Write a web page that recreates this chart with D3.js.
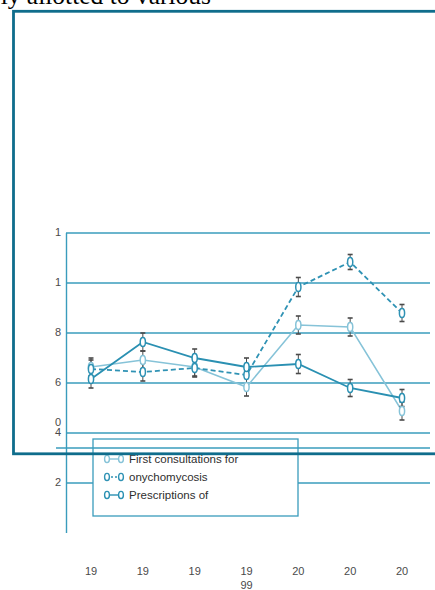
<!DOCTYPE html>
<html>
<head>
<meta charset="utf-8">
<script src="https://cdn.jsdelivr.net/npm/d3@7/dist/d3.min.js"></script>
<style>
  html, body { margin: 0; padding: 0; background: #fff; overflow: hidden; }
  svg { display: block; }
</style>
</head>
<body>
<script>
// ---- data ----
const years = [1996, 1997, 1998, 1999, 2000, 2001, 2002];
const xLabels = ["19", "19", "19", "19", "20", "20", "20"];
const xLabels2 = ["", "", "", "99", "", "", ""];
const firstConsult = [6.64, 6.92, 6.64, 5.84, 8.32, 8.24, 4.88];
const firstConsultErr = [0.36, 0.36, 0.36, 0.36, 0.36, 0.36, 0.36];
const onychomycosis = [6.56, 6.44, 6.6, 6.32, 9.84, 10.84, 8.8];
const onychomycosisErr = [0.36, 0.36, 0.36, 0.36, 0.38, 0.3, 0.34];
const prescriptions = [6.16, 7.64, 7.0, 6.64, 6.76, 5.8, 5.4];
const prescriptionsErr = [0.36, 0.36, 0.36, 0.36, 0.38, 0.34, 0.34];
const yTickValues = [2, 4, 6, 8, 10, 12];
const yTickLabels = ["2", "4", "6", "8", "1", "1"];
const legendLabels = ["First consultations for", "onychomycosis", "Prescriptions of"];
const extraLineValue = [3.4];
const titleText = "ly allotted to various";

// ---- layout ----
const W = 435, H = 590;
const svg = d3.select("body").append("svg").attr("width", W).attr("height", H);

const x = d3.scalePoint().domain(years).range([91, 402]);
const y = d3.scaleLinear().domain([0, 12]).range([533, 233]);

const gridColor = "#3a9cbc";
const font = "'Liberation Sans', Arial, sans-serif";

// gridlines
svg.append("g").selectAll("line").data(yTickValues).join("line")
  .attr("x1", 66).attr("x2", 430)
  .attr("y1", d => y(d)).attr("y2", d => y(d))
  .attr("stroke", gridColor).attr("stroke-width", 1.4);

// y axis line
svg.append("line").attr("x1", 66.5).attr("x2", 66.5)
  .attr("y1", y(12)).attr("y2", y(0))
  .attr("stroke", gridColor).attr("stroke-width", 1.4);

// y tick labels
svg.append("g").selectAll("text").data(yTickValues).join("text")
  .attr("x", 61).attr("y", d => y(d) + 3)
  .attr("text-anchor", "end")
  .attr("font-family", font).attr("font-size", 11).attr("fill", "#4a4a4a")
  .text((d, i) => yTickLabels[i]);
svg.append("text")
  .attr("x", 61).attr("y", y(4) - 7)
  .attr("text-anchor", "end")
  .attr("font-family", font).attr("font-size", 11).attr("fill", "#4a4a4a")
  .text("0");

// x labels
svg.append("g").selectAll("text").data(years).join("text")
  .attr("x", d => x(d)).attr("y", 575)
  .attr("text-anchor", "middle")
  .attr("font-family", font).attr("font-size", 11).attr("fill", "#4a4a4a")
  .text((d, i) => xLabels[i]);
svg.append("g").selectAll("text").data(years).join("text")
  .attr("x", d => x(d)).attr("y", 589)
  .attr("text-anchor", "middle")
  .attr("font-family", font).attr("font-size", 11).attr("fill", "#4a4a4a")
  .text((d, i) => xLabels2[i]);

// series
const series = [
  { name: legendLabels[0], vals: firstConsult, err: firstConsultErr, color: "#86c3d8", width: 1.5, dash: null },
  { name: legendLabels[1], vals: onychomycosis, err: onychomycosisErr, color: "#2f92b4", width: 1.8, dash: "5,3" },
  { name: legendLabels[2], vals: prescriptions, err: prescriptionsErr, color: "#2a90b2", width: 1.8, dash: null }
];

const line = d3.line().x(d => x(d.year)).y(d => y(d.v));

series.forEach(s => {
  const pts = years.map((yr, i) => ({ year: yr, v: s.vals[i], e: s.err[i] }));
  svg.append("path").datum(pts)
    .attr("d", line).attr("fill", "none")
    .attr("stroke", s.color).attr("stroke-width", s.width)
    .attr("stroke-dasharray", s.dash);
  s.pts = pts;
});

// error bars
series.forEach(s => {
  const g = svg.append("g").attr("stroke", "#4a4a4a").attr("stroke-width", 1);
  g.selectAll("line.v").data(s.pts).join("line")
    .attr("x1", d => x(d.year)).attr("x2", d => x(d.year))
    .attr("y1", d => y(d.v - d.e)).attr("y2", d => y(d.v + d.e));
  g.selectAll("line.t").data(s.pts).join("line")
    .attr("x1", d => x(d.year) - 2.5).attr("x2", d => x(d.year) + 2.5)
    .attr("y1", d => y(d.v + d.e)).attr("y2", d => y(d.v + d.e))
    .attr("stroke-width", 1.6);
  g.selectAll("line.b").data(s.pts).join("line")
    .attr("x1", d => x(d.year) - 2.5).attr("x2", d => x(d.year) + 2.5)
    .attr("y1", d => y(d.v - d.e)).attr("y2", d => y(d.v - d.e))
    .attr("stroke-width", 1.6);
});

// markers
series.forEach(s => {
  svg.append("g").selectAll("ellipse").data(s.pts).join("ellipse")
    .attr("cx", d => x(d.year)).attr("cy", d => y(d.v))
    .attr("rx", 2.6).attr("ry", 4.6)
    .attr("fill", "#fff").attr("stroke", s.color).attr("stroke-width", 1.5);
});

// legend
const lg = svg.append("g");
lg.append("rect").attr("x", 93).attr("y", 439).attr("width", 205).attr("height", 77)
  .attr("fill", "#fff").attr("stroke", gridColor).attr("stroke-width", 1.3);
const legendY = [459, 477, 495];
series.forEach((s, i) => {
  const cy = legendY[i];
  lg.append("line").attr("x1", 107).attr("x2", 121).attr("y1", cy).attr("y2", cy)
    .attr("stroke", s.color).attr("stroke-width", 1.4).attr("stroke-dasharray", s.dash ? "2,2" : null);
  [107, 121].forEach(cx => {
    lg.append("ellipse").attr("cx", cx).attr("cy", cy).attr("rx", 2.4).attr("ry", 3.6)
      .attr("fill", "#fff").attr("stroke", s.color).attr("stroke-width", 1.4);
  });
  lg.append("text").attr("x", 129).attr("y", cy + 4)
    .attr("font-family", font).attr("font-size", 11.5).attr("fill", "#2e2e2e")
    .text(s.name);
});

// extra line crossing
svg.append("g").selectAll("line").data(extraLineValue).join("line")
  .attr("x1", 56).attr("x2", 430)
  .attr("y1", d => y(d)).attr("y2", d => y(d))
  .attr("stroke", gridColor).attr("stroke-width", 1.4);

// outer border
svg.append("rect").attr("x", 13.5).attr("y", 11.3).attr("width", 440).attr("height", 442.5)
  .attr("fill", "none").attr("stroke", "#0f6d8c").attr("stroke-width", 2.8);

// title fragment
svg.append("text").attr("x", 211).attr("y", 4)
  .attr("text-anchor", "end")
  .attr("font-family", "'Liberation Serif', 'Times New Roman', serif")
  .attr("font-size", 25.5).attr("fill", "#000")
  .text(titleText);
</script>
</body>
</html>
